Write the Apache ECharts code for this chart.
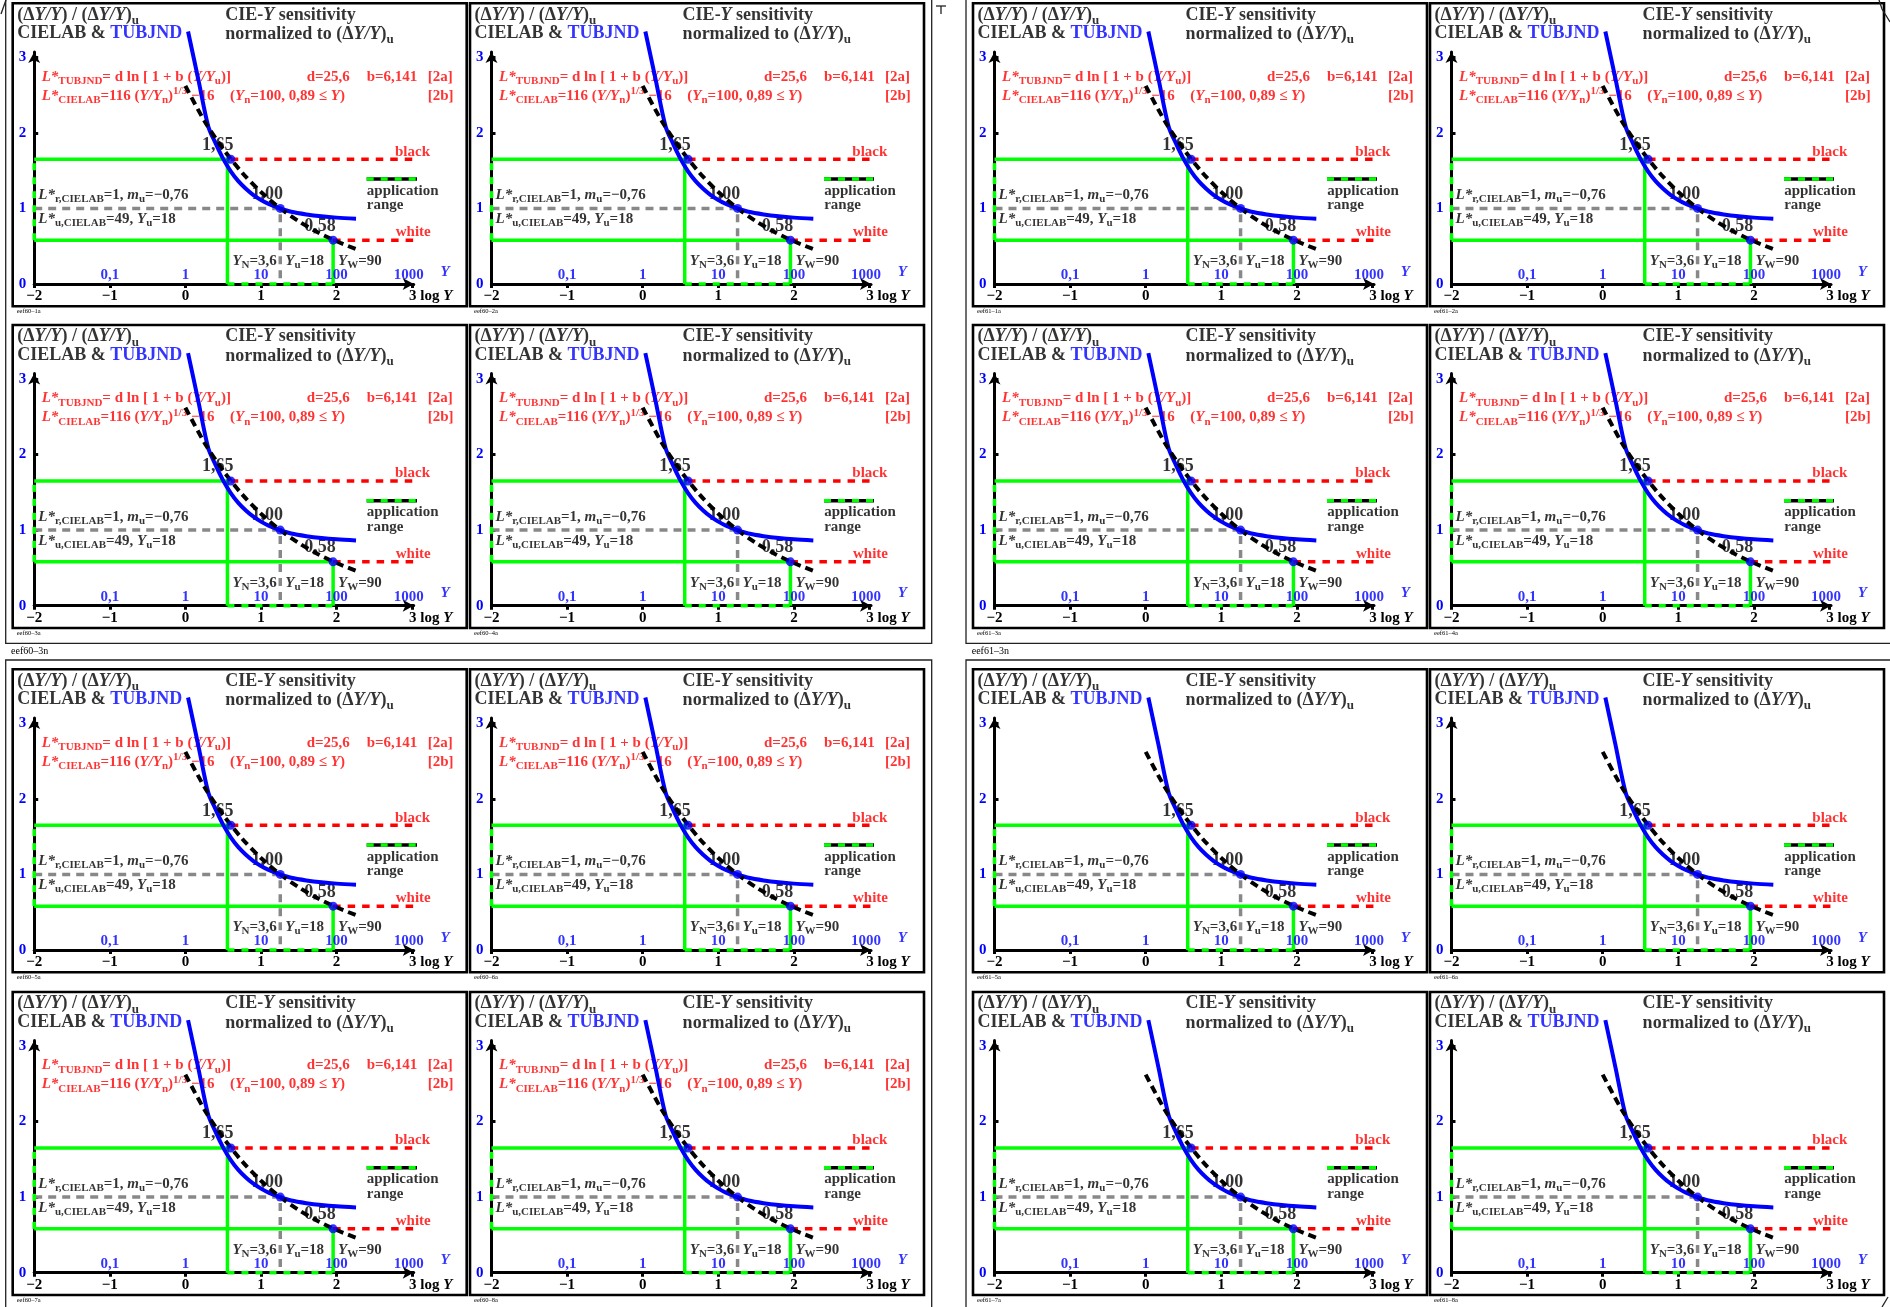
<!DOCTYPE html>
<html><head><meta charset="utf-8">
<script src="https://cdn.jsdelivr.net/npm/echarts@6/dist/echarts.min.js"></script>
<style>html,body{margin:0;padding:0;background:#fff;}#chart{width:1890px;height:1307px;}</style>
</head><body><div id="chart"></div>
<script>
// ---------- data ----------
const tubjndLogY  = [0.035, 0.17, 0.302, 0.4, 0.5, 0.6, 0.7, 0.8, 0.9, 1.0, 1.1, 1.255, 1.4, 1.6, 1.8, 2.0, 2.257];
const tubjndRatio = [3.34, 2.71, 2.085, 1.86, 1.655, 1.49, 1.36, 1.26, 1.177, 1.112, 1.06, 1.0, 0.955, 0.92, 0.895, 0.878, 0.864];
const cielabLogY  = [0.0, 0.25, 0.5, 0.75, 1.0, 1.25, 1.5, 1.75, 2.0, 2.265];
const cielabRatio = [2.62, 2.16, 1.785, 1.473, 1.216, 1.004, 0.829, 0.684, 0.565, 0.458];
const keyLogY  = [0.6, 1.255, 1.954];
const keyRatio = [1.65, 1.0, 0.58];
const keyText  = ['1,65', '1,00', '0,58'];
const rangeLogY  = [0.556, 1.954];   // Y_N = 3,6 and Y_W = 90
const rangeRatio = [1.65, 0.58];     // black and white level
const uLogY = 1.255, uRatio = 1.0;   // Y_u = 18
const xTickValues = [-2, -1, 0, 1, 2, 3];
const yTickValues = [0, 1, 2, 3];
const linLogY = [-1, 0, 1, 2, 3];
const linText = ['0,1', '1', '10', '100', '1000'];
const panelIds = [
  ['eef60–1a', 'eef60–2a', 'eef61–1a', 'eef61–2a'],
  ['eef60–3a', 'eef60–4a', 'eef61–3a', 'eef61–4a'],
  ['eef60–5a', 'eef60–6a', 'eef61–5a', 'eef61–6a'],
  ['eef60–7a', 'eef60–8a', 'eef61–7a', 'eef61–8a']];
const quadrantIds = ['eef60–3n', 'eef61–3n'];

// ---------- layout ----------
const U = 75.6, PW = 454, PH = 303, OX = 21.5, OY = 280.7;
const XMIN = -2, XMAX = 3.02, YMAX = 3.07;
const colLeft = [12.7, 470, 973, 1430];
const rowTop = [3.3, 325, 669.3, 992];
const lineEnd = 3.45;
const legendX = [2.398, 3.403], legendY = 1.389;

const FONT = '"Liberation Serif","Times New Roman",serif';
function st(size, color, o) {
  return Object.assign({fontFamily: FONT, fontSize: size, fontWeight: 'bold', color: color, lineHeight: 20}, o || {});
}
const IT = {fontStyle: 'italic'};
const rich = {
  t:  st(18, '#000', {lineHeight: 24}),
  ti: st(18, '#000', {lineHeight: 24, fontStyle: 'italic'}),
  ts: st(13, '#000', {lineHeight: 15, verticalAlign: 'bottom'}),
  tb: st(18, '#0000ff', {lineHeight: 24}),
  n:  st(18, '#000', {lineHeight: 24}),
  k:  st(15, '#000'), ki: st(15, '#000', IT), ks: st(11, '#000', {lineHeight: 13, verticalAlign: 'bottom'}),
  r:  st(15, '#ff0000'), ri: st(15, '#ff0000', IT), rs: st(11, '#ff0000', {lineHeight: 13, verticalAlign: 'bottom'}),
  rp: st(11, '#ff0000', {lineHeight: 4, verticalAlign: 'top'}),
  b:  st(15, '#0000ff'), bi: st(15, '#0000ff', IT)
};
const axisRich = {
  k: st(15, '#000', {lineHeight: 16}),
  ki: st(15, '#000', {lineHeight: 16, fontStyle: 'italic'}),
  p: st(15, '#000', {lineHeight: 16, padding: [0, 0, 0, 37]})
};

const commonAnn = [
  {x: -2.224, y: 3.558, t: '{t|(Δ}{ti|Y/Y}{t|) / (Δ}{ti|Y/Y}{t|)}{ts|u}'},
  {x: -2.224, y: 3.316, t: '{t|CIELAB & }{tb|TUBJND}'},
  {x: 0.528, y: 3.558, t: '{t|CIE-}{ti|Y}{t| sensitivity}'},
  {x: 0.528, y: 3.303, t: '{t|normalized to (Δ}{ti|Y/Y}{t|)}{ts|u}'},
  {x: 3.236, y: 1.75, t: '{r|black}', al: 'right'},
  {x: 3.245, y: 0.684, t: '{r|white}', al: 'right'},
  {x: 2.40, y: 1.234, t: '{k|application}'},
  {x: 2.40, y: 1.045, t: '{k|range}'},
  {x: -1.946, y: 1.177, t: '{ki|L*}{ks|r,CIELAB}{k|=1, }{ki|m}{ks|u}{k|=−0,76}'},
  {x: -1.946, y: 0.860, t: '{ki|L*}{ks|u,CIELAB}{k|=49, }{ki|Y}{ks|u}{k|=18}'},
  {x: rangeLogY[0], y: 0.304, t: '{ki|Y}{ks|N}{k|=3,6}', off: [5, 0]},
  {x: uLogY, y: 0.304, t: '{ki|Y}{ks|u}{k|=18}', off: [5, 0]},
  {x: rangeLogY[1], y: 0.304, t: '{ki|Y}{ks|W}{k|=90}', off: [5, 0]},
  {x: 3.434, y: 0.163, t: '{bi|Y}', al: 'center'}
];
keyLogY.forEach((x, k) => commonAnn.push({x: x, y: keyRatio[k], t: '{n|' + keyText[k] + '}', al: 'center', off: [-13, -14.3]}));
linLogY.forEach((x, k) => commonAnn.push({x: x - (k === 4 ? 0.045 : 0), y: 0.119, t: '{b|' + linText[k] + '}', al: 'center'}));
const formulaAnn = [
  {x: -1.901, y: 2.742, t: '{ri|L*}{rs|TUBJND}{r|= d ln [ 1 + b (}{ri|Y/Y}{rs|u}{r|)]}'},
  {x: 1.604, y: 2.742, t: '{r|d=25,6}'},
  {x: 2.398, y: 2.742, t: '{r|b=6,141}'},
  {x: 3.205, y: 2.742, t: '{r|[2a]}'},
  {x: -1.901, y: 2.491, t: '{ri|L*}{rs|CIELAB}{r|=116 (}{ri|Y/Y}{rs|n}{r|)}{rp|1/3}{r| −16}'},
  {x: 0.59, y: 2.491, t: '{r|(}{ri|Y}{rs|n}{r|=100, 0,89 ≤ }{ri|Y}{r|)}'},
  {x: 3.205, y: 2.491, t: '{r|[2b]}'}
];

const G = '#00ff00', RED = '#ff0000', BLUE = '#0000ff', GRAY = '#888888';
function ln(gi, data, color, width, type, z, smooth) {
  return {type: 'line', xAxisIndex: gi, yAxisIndex: gi, data: data, symbol: 'none', showSymbol: false,
    clip: false, silent: true, animation: false, smooth: smooth || false, z: z,
    lineStyle: {color: color, width: width, type: type || 'solid', cap: 'butt'}};
}
function xFmt(v) {
  if (v === 3) return '{p|3}{k| log }{ki|Y}';
  return '{k|' + (v < 0 ? '−' + (-v) : String(v)) + '}';
}

const grid = [], xAxis = [], yAxis = [], series = [], elements = [];
let gi = 0;
for (let r = 0; r < 4; r++) {
  for (let c = 0; c < 4; c++) {
    const px = colLeft[c], py = rowTop[r];
    const showFormula = !(r >= 2 && c >= 2);
    grid.push({left: px + OX, top: py + OY - YMAX * U, width: (XMAX - XMIN) * U, height: YMAX * U});
    xAxis.push({gridIndex: gi, type: 'value', min: XMIN, max: XMAX, splitLine: {show: false},
      axisLine: {show: true, onZero: false, symbol: ['none', 'arrow'], symbolSize: [9, 11], lineStyle: {color: '#000', width: 3}},
      axisTick: {show: true, customValues: xTickValues, length: 4, lineStyle: {color: '#000', width: 3}},
      axisLabel: {show: true, customValues: xTickValues, margin: 4, formatter: xFmt, rich: axisRich}});
    yAxis.push({gridIndex: gi, type: 'value', min: 0, max: YMAX, splitLine: {show: false},
      axisLine: {show: true, onZero: false, symbol: ['none', 'arrow'], symbolSize: [9, 11], lineStyle: {color: '#000', width: 3}},
      axisTick: {show: true, customValues: yTickValues, inside: true, length: 4, lineStyle: {color: '#000', width: 3}},
      axisLabel: {show: true, customValues: yTickValues, margin: 8, color: BLUE, fontWeight: 'bold', fontSize: 15, fontFamily: FONT}});

    series.push(ln(gi, [[XMIN, rangeRatio[0]], [rangeLogY[0], rangeRatio[0]], [rangeLogY[0], 0]], G, 3.5, 'solid', 2));
    series.push(ln(gi, [[XMIN, rangeRatio[1]], [rangeLogY[1], rangeRatio[1]], [rangeLogY[1], 0]], G, 3.5, 'solid', 2));
    series.push(ln(gi, [[XMIN, rangeRatio[1]], [XMIN, rangeRatio[0]]], G, 3.5, [7, 7], 3));
    series.push(ln(gi, [[rangeLogY[0], 0], [rangeLogY[1], 0]], G, 3.5, [7, 7], 3));
    series.push(ln(gi, [[XMIN, uRatio], [uLogY, uRatio], [uLogY, 0]], GRAY, 3.5, [8, 6], 2));
    series.push(ln(gi, [[keyLogY[0], keyRatio[0]], [lineEnd, keyRatio[0]]], RED, 3.5, [7.5, 7], 2));
    series.push(ln(gi, [[keyLogY[2], keyRatio[2]], [lineEnd, keyRatio[2]]], RED, 3.5, [7.5, 7], 2));
    series.push(ln(gi, legendX.map(x => [x, legendY]), '#000', 3.5, 'solid', 2));
    series.push(ln(gi, legendX.map(x => [x, legendY]), G, 3.5, [7, 7], 3));
    series.push(ln(gi, tubjndLogY.map((x, k) => [x, tubjndRatio[k]]), BLUE, 4, 'solid', 4, 0.3));
    series.push(ln(gi, cielabLogY.map((x, k) => [x, cielabRatio[k]]), '#000', 4, [8, 5], 5, 0.3));
    series.push({type: 'scatter', xAxisIndex: gi, yAxisIndex: gi, data: keyLogY.map((x, k) => [x, keyRatio[k]]),
      symbolSize: 9, itemStyle: {color: BLUE}, z: 6, clip: false, silent: true, animation: false});
    const ann = showFormula ? commonAnn.concat(formulaAnn) : commonAnn;
    series.push({type: 'scatter', xAxisIndex: gi, yAxisIndex: gi, symbol: 'circle', symbolSize: 0,
      itemStyle: {color: 'rgba(0,0,0,0)'}, clip: false, silent: true, animation: false, z: 3,
      label: {show: true, position: 'right', distance: 0, formatter: p => p.data.t, rich: rich, align: 'left', verticalAlign: 'middle'},
      data: ann.map(a => ({value: [a.x, a.y], t: a.t, label: {align: a.al || 'left', offset: a.off || [0, 0]}}))});

    elements.push({type: 'rect', silent: true, shape: {x: px, y: py, width: PW, height: PH},
      style: {fill: null, stroke: '#000', lineWidth: 2.6}});
    elements.push({type: 'text', silent: true, x: px + 4, y: py + PH + 5,
      style: {text: panelIds[r][c], fontSize: 6.5, fontFamily: FONT, fill: '#000', verticalAlign: 'middle'}});
    gi++;
  }
}
// quadrant frames and marks
const frameStyle = {fill: null, stroke: '#222', lineWidth: 1.3};
[[[5.7, 0], [5.7, 643.3], [931.7, 643.3], [931.7, 0]],
 [[966, 0], [966, 643.3], [1890, 643.3]],
 [[5.7, 1307], [5.7, 660], [931.7, 660], [931.7, 1307]],
 [[966, 1307], [966, 660], [1890, 660]],
 [[936, 6], [946, 6]], [[941, 6], [941, 14]],
 [[1, 14], [6, 0]], [[1882, 1307], [1888, 1297]], [[1879, 0], [1882, 9], [1890, 22]]
].forEach(pts => elements.push({type: 'polyline', silent: true, shape: {points: pts}, style: frameStyle}));
elements.push({type: 'text', silent: true, x: 11, y: 651.7, style: {text: quadrantIds[0], fontSize: 10, fontFamily: FONT, fill: '#000', verticalAlign: 'middle'}});
elements.push({type: 'text', silent: true, x: 971.7, y: 651.7, style: {text: quadrantIds[1], fontSize: 10, fontFamily: FONT, fill: '#000', verticalAlign: 'middle'}});

const chart = echarts.init(document.getElementById('chart'), null, {renderer: 'canvas'});
chart.setOption({animation: false, backgroundColor: '#fff', grid: grid, xAxis: xAxis, yAxis: yAxis, series: series,
  graphic: {elements: elements}});
</script></body></html>
